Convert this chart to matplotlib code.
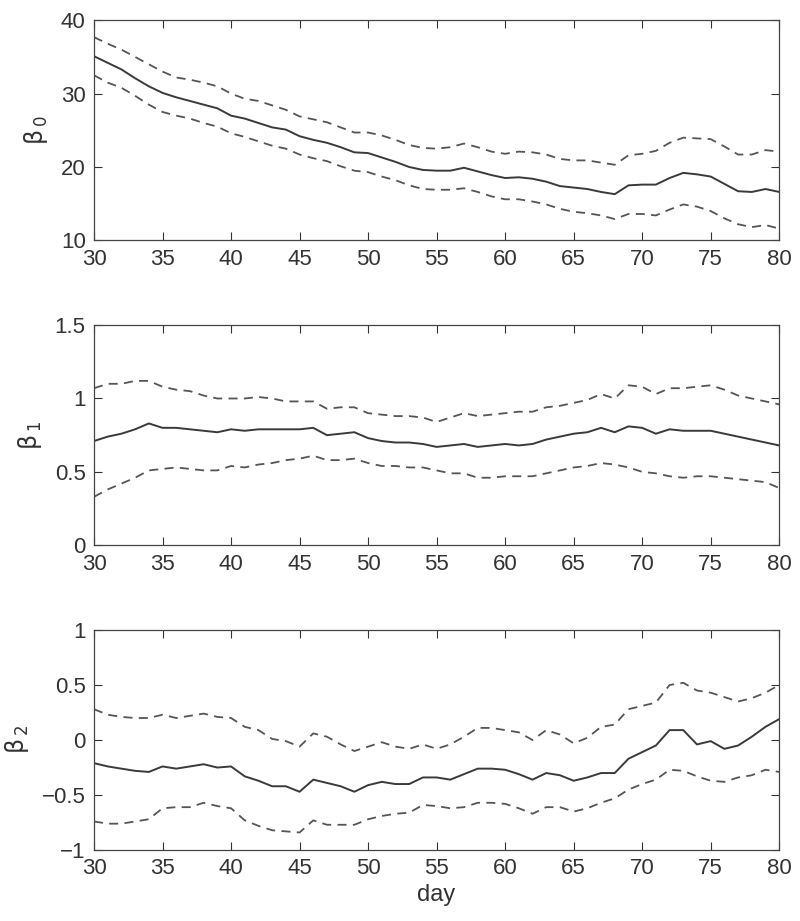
import numpy as np
import matplotlib
matplotlib.use("Agg")
import matplotlib.pyplot as plt

plt.rcParams['font.family'] = ['Liberation Sans Narrow', 'Liberation Sans', 'DejaVu Sans']
plt.rcParams['mathtext.fontset'] = 'dejavusans'

day = np.arange(30, 81)

b0 = [35.1, 34.2, 33.3, 32.1, 31.0, 30.1, 29.5, 29.0, 28.5, 28.0,
      27.0, 26.6, 26.0, 25.4, 25.1, 24.2, 23.7, 23.3, 22.7, 22.0,
      21.9, 21.3, 20.7, 20.0, 19.6, 19.5, 19.5, 19.9, 19.4, 18.9,
      18.5, 18.6, 18.4, 18.0, 17.4, 17.2, 17.0, 16.6, 16.3, 17.5,
      17.6, 17.6, 18.5, 19.2, 19.0, 18.7, 17.7, 16.7, 16.6, 17.0, 16.6]
b0_hi = [37.7, 36.8, 36.0, 35.0, 34.0, 33.0, 32.2, 31.9, 31.5, 31.0,
         30.0, 29.3, 29.0, 28.4, 27.8, 26.9, 26.5, 26.1, 25.4, 24.7,
         24.7, 24.3, 23.7, 23.0, 22.6, 22.5, 22.7, 23.2, 22.7, 22.1,
         21.8, 22.1, 22.0, 21.7, 21.1, 20.9, 20.9, 20.6, 20.3, 21.6,
         21.8, 22.2, 23.3, 24.0, 23.9, 23.8, 22.8, 21.7, 21.7, 22.3, 22.1]
b0_lo = [32.5, 31.5, 30.8, 29.7, 28.5, 27.5, 27.0, 26.6, 26.0, 25.5,
         24.6, 24.1, 23.5, 22.9, 22.5, 21.7, 21.2, 20.8, 20.1, 19.5,
         19.3, 18.7, 18.2, 17.5, 17.0, 16.9, 16.9, 17.1, 16.6, 16.0,
         15.6, 15.6, 15.3, 14.9, 14.3, 13.9, 13.7, 13.4, 12.9, 13.6,
         13.6, 13.4, 14.2, 14.9, 14.6, 14.0, 13.0, 12.2, 11.8, 12.1, 11.6]

b1 = [0.71, 0.74, 0.76, 0.79, 0.83, 0.80, 0.80, 0.79, 0.78, 0.77,
      0.79, 0.78, 0.79, 0.79, 0.79, 0.79, 0.80, 0.75, 0.76, 0.77,
      0.73, 0.71, 0.70, 0.70, 0.69, 0.67, 0.68, 0.69, 0.67, 0.68,
      0.69, 0.68, 0.69, 0.72, 0.74, 0.76, 0.77, 0.80, 0.77, 0.81,
      0.80, 0.76, 0.79, 0.78, 0.78, 0.78, 0.76, 0.74, 0.72, 0.70, 0.68]
b1_hi = [1.07, 1.10, 1.10, 1.12, 1.12, 1.08, 1.06, 1.05, 1.02, 1.00,
         1.00, 1.00, 1.01, 1.00, 0.98, 0.98, 0.98, 0.93, 0.94, 0.94,
         0.90, 0.89, 0.88, 0.88, 0.87, 0.84, 0.87, 0.90, 0.88, 0.89,
         0.90, 0.91, 0.91, 0.94, 0.95, 0.97, 0.99, 1.03, 1.00, 1.09,
         1.08, 1.03, 1.07, 1.07, 1.08, 1.09, 1.06, 1.02, 1.00, 0.98, 0.96]
b1_lo = [0.33, 0.38, 0.42, 0.46, 0.51, 0.52, 0.53, 0.52, 0.51, 0.51,
         0.54, 0.53, 0.55, 0.56, 0.58, 0.59, 0.61, 0.58, 0.58, 0.59,
         0.56, 0.54, 0.54, 0.53, 0.53, 0.51, 0.49, 0.49, 0.46, 0.46,
         0.47, 0.47, 0.47, 0.49, 0.51, 0.53, 0.54, 0.56, 0.55, 0.53,
         0.50, 0.49, 0.47, 0.46, 0.47, 0.47, 0.46, 0.45, 0.44, 0.43, 0.39]

b2 = [-0.21, -0.24, -0.26, -0.28, -0.29, -0.24, -0.26, -0.24, -0.22, -0.25,
      -0.24, -0.33, -0.37, -0.42, -0.42, -0.47, -0.36, -0.39, -0.42, -0.47,
      -0.41, -0.38, -0.40, -0.40, -0.34, -0.34, -0.36, -0.31, -0.26, -0.26,
      -0.27, -0.31, -0.36, -0.30, -0.32, -0.37, -0.34, -0.30, -0.30, -0.17,
      -0.11, -0.05, 0.09, 0.09, -0.04, -0.01, -0.08, -0.05, 0.03, 0.12, 0.19]
b2_hi = [0.28, 0.23, 0.21, 0.20, 0.20, 0.23, 0.20, 0.22, 0.24, 0.21,
         0.20, 0.12, 0.09, 0.01, -0.01, -0.06, 0.06, 0.03, -0.04, -0.10,
         -0.06, -0.02, -0.06, -0.08, -0.04, -0.08, -0.04, 0.03, 0.11, 0.11,
         0.09, 0.07, 0.00, 0.09, 0.05, -0.03, 0.02, 0.12, 0.14, 0.28,
         0.31, 0.34, 0.50, 0.52, 0.45, 0.43, 0.39, 0.35, 0.38, 0.43, 0.50]
b2_lo = [-0.74, -0.76, -0.76, -0.74, -0.72, -0.62, -0.61, -0.61, -0.57, -0.60,
         -0.62, -0.73, -0.78, -0.82, -0.83, -0.84, -0.73, -0.77, -0.77, -0.77,
         -0.72, -0.69, -0.67, -0.66, -0.59, -0.60, -0.62, -0.61, -0.57, -0.57,
         -0.58, -0.62, -0.67, -0.61, -0.61, -0.65, -0.62, -0.57, -0.53, -0.45,
         -0.40, -0.36, -0.27, -0.28, -0.33, -0.37, -0.38, -0.34, -0.32, -0.27, -0.29]

panels = [
    (b0, b0_hi, b0_lo, r'$\mathrm{\beta}_{\,0}$', (10, 40), [10, 20, 30, 40], ['10', '20', '30', '40']),
    (b1, b1_hi, b1_lo, r'$\mathrm{\beta}_{\,1}$', (0, 1.5), [0, 0.5, 1, 1.5], ['0', '0.5', '1', '1.5']),
    (b2, b2_hi, b2_lo, r'$\mathrm{\beta}_{\,2}$', (-1, 1), [-1, -0.5, 0, 0.5, 1], ['\u22121', '\u22120.5', '0', '0.5', '1']),
]
bottoms = [0.739, 0.408, 0.077]
height = 0.239

fig = plt.figure(figsize=(8, 9.21), dpi=100)
for (mid, hi, lo, lab, ylim, yt, ytl), bot in zip(panels, bottoms):
    ax = fig.add_axes([0.1175, bot, 0.8565, height])
    ax.plot(day, mid, color='#3a3a3a', lw=1.4)
    ax.plot(day, hi, color='#555555', lw=1.3, ls=(0, (5, 3.5)))
    ax.plot(day, lo, color='#555555', lw=1.3, ls=(0, (5, 3.5)))
    ax.set_xlim(30, 80)
    ax.set_ylim(*ylim)
    ax.set_xticks(range(30, 81, 5))
    ax.set_yticks(yt)
    ax.set_yticklabels(ytl)
    ax.tick_params(direction='in', top=True, right=True, length=6, width=0.8,
                   labelsize=16, colors='#333333', pad=6)
    for s in ax.spines.values():
        s.set_color('#444444')
        s.set_linewidth(0.9)
    ax.set_ylabel(lab, fontsize=17, color='#333333', labelpad=8)

ax.set_xlabel('day', fontsize=17, color='#333333', labelpad=3)

fig.savefig('out.png', dpi=100)
